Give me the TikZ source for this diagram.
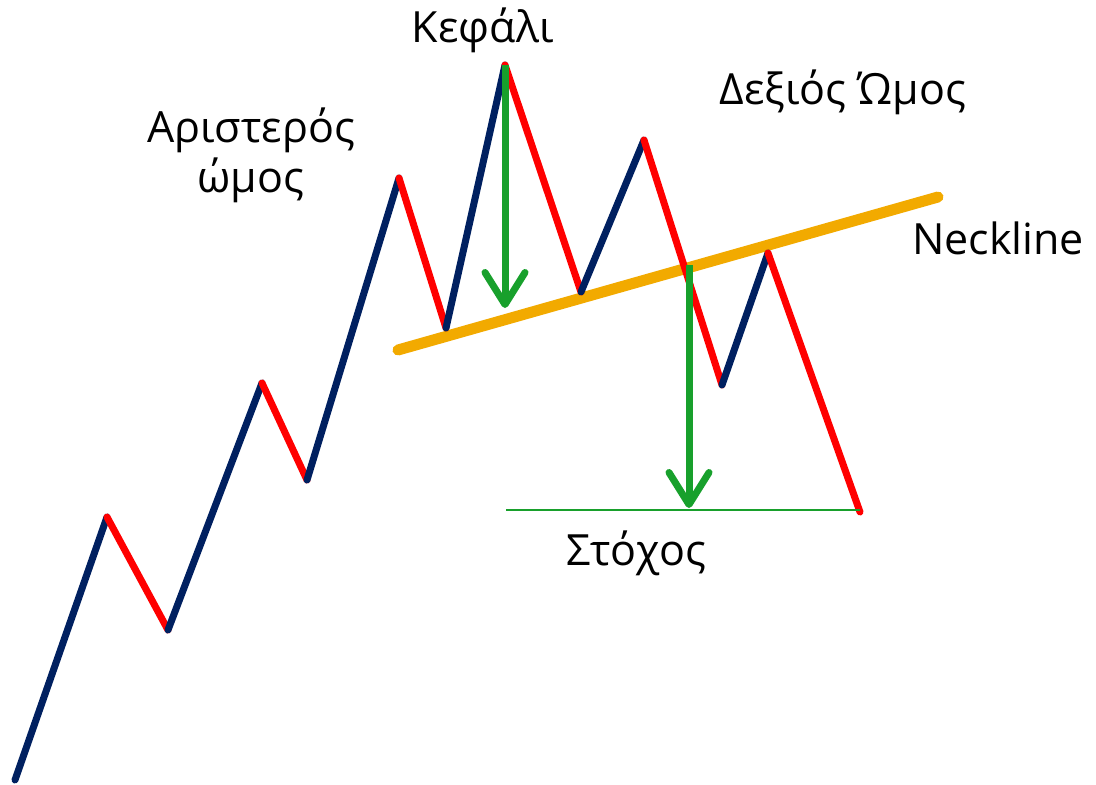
\documentclass[tikz,border=0pt]{standalone}
\usepackage{fontspec}
\setmainfont{Open Sans}
\usetikzlibrary{arrows.meta}
\definecolor{navyline}{HTML}{002060}
\definecolor{redline}{HTML}{FF0000}
\definecolor{neckorange}{HTML}{F2AA00}
\definecolor{targetgreen}{HTML}{18A02C}
\begin{document}
\begin{tikzpicture}[x=1pt, y=-1pt,
  font=\fontsize{43}{50}\selectfont,
  up/.style={navyline, line width=7pt, line cap=round},
  down/.style={redline, line width=7pt, line cap=round},
  neck/.style={neckorange, line width=11pt, line cap=round},
  drop/.style={targetgreen, line width=7pt,
               -{Straight Barb[length=32pt, width=40pt, round]}},
  lbl/.style={align=center, inner sep=0pt}
]
  \useasboundingbox (0,0) rectangle (1096,785);

  % turning points of the price line
  \coordinate (p0)  at (15,780);
  \coordinate (p1)  at (107,517);
  \coordinate (p2)  at (168,630);
  \coordinate (p3)  at (262,383);
  \coordinate (p4)  at (307,480);
  \coordinate (p5)  at (399,178);
  \coordinate (p6)  at (446,328);
  \coordinate (p7)  at (505,65);
  \coordinate (p8)  at (581,292);
  \coordinate (p9)  at (644,140);
  \coordinate (p10) at (722,385);
  \coordinate (p11) at (768,253);
  \coordinate (p12) at (860,512);

  \coordinate (nstart) at (398,350);
  \coordinate (nend)   at (938,197);
  \coordinate (headdrop) at (505,308);
  \coordinate (breakpt)  at (689,265);
  \coordinate (target)   at (689,508);
  \coordinate (tstart)   at (506,510);
  \coordinate (tend)     at (860,510);

  \draw[neck] (nstart) -- (nend);

  \draw[up]   (p0) -- (p1);
  \draw[down] (p1) -- (p2);
  \draw[up]   (p2) -- (p3);
  \draw[down] (p3) -- (p4);
  \draw[up]   (p4) -- (p5);
  \draw[down] (p5) -- (p6);
  \draw[up]   (p6) -- (p7);
  \draw[down] (p7) -- (p8);
  \draw[up]   (p8) -- (p9);
  \draw[down] (p9) -- (p10);
  \draw[up]   (p10) -- (p11);
  \draw[down] (p11) -- (p12);

  \draw[targetgreen, line width=1.5pt] (tstart) -- (tend);
  \draw[drop] (p7) -- (headdrop);
  \draw[drop] (breakpt) -- (target);

  \node[lbl] (head)   at (483,30)  {Κεφάλι};
  \node[lbl] (lshoul) at (251,155) {Αριστερός\\ώμος};
  \node[lbl] (rshoul) at (843,92)  {Δεξιός Ώμος};
  \node[lbl] (neckl)  at (998,238) {Neckline};
  \node[lbl] (goal)   at (636,553) {Στόχος};
\end{tikzpicture}
\end{document}
